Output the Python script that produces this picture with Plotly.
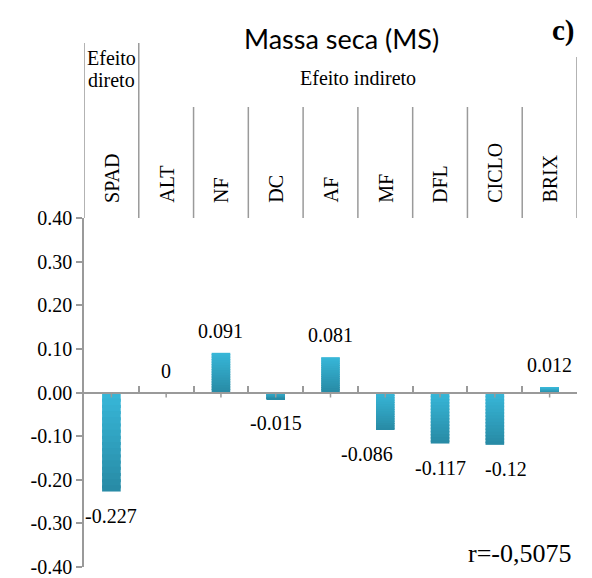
import plotly.graph_objects as go

categories = ["SPAD", "ALT", "NF", "DC", "AF", "MF", "DFL", "CICLO", "BRIX"]
values = [-0.227, 0.0, 0.091, -0.015, 0.081, -0.086, -0.117, -0.12, 0.012]
value_labels = ["-0.227", "0", "0.091", "-0.015", "0.081", "-0.086", "-0.117", "-0.12", "0.012"]
label_xshift = [0, 0, 0, 0, 0, -18, 0, 11, 0]
y_ticks = [-0.4, -0.3, -0.2, -0.1, 0.0, 0.1, 0.2, 0.3, 0.4]
y_tick_text = ["-0.40", "-0.30", "-0.20", "-0.10", "0.00", "0.10", "0.20", "0.30", "0.40"]

SERIF = "Liberation Serif, Times New Roman, serif"
GRAY = "#9a9a9a"
LIGHT = (55, 183, 217)
DARK = (40, 138, 164)

# page has an 8px body margin; figure sized to fit the window
OFF = 8
W, H = 584, 570
ML, MR, MT, MB = 76, 15, 210, 11
PW = W - ML - MR
PH = H - MT - MB

def px(p):
    return (p - OFF - ML) / PW

def py(p):
    return (H - MB - (p - OFF)) / PH

def mix(t):
    c = [round(DARK[j] + (LIGHT[j] - DARK[j]) * t) for j in range(3)]
    return "rgb(%d,%d,%d)" % tuple(c)

n = len(categories)
xs = list(range(n))
NS = 16
fig = go.Figure()
# vertical gradient: consecutive slices from zero outward, each slightly
# overlapping the next so that no seams show
for k in range(NS):
    frac = (k + 0.5) / NS
    cols = [mix(frac) if v >= 0 else mix(1 - frac) for v in values]
    ext = 1.0 if k == NS - 1 else 1.5
    fig.add_trace(go.Bar(
        x=xs, y=[v * ext / NS for v in values], base=[v * k / NS for v in values],
        width=0.34, marker=dict(color=cols, line=dict(width=0)),
        hoverinfo="skip",
    ))

ann = []
for i, (v, t, dx) in enumerate(zip(values, value_labels, label_xshift)):
    ann.append(dict(x=i, y=v, xref="x", yref="y", text=t, showarrow=False,
                    yanchor="middle", xanchor="center", xshift=dx,
                    yshift=(22 if v >= 0 else -24),
                    font=dict(family=SERIF, size=20, color="black")))
for i, c in enumerate(categories):
    ann.append(dict(x=i, y=py(205), xref="x", yref="paper", text=c, showarrow=False,
                    textangle=-90, yanchor="bottom", xanchor="center",
                    font=dict(family=SERIF, size=20, color="black")))
ann.append(dict(x=0, y=py(58), xref="x", yref="paper", text="Efeito", showarrow=False,
                yanchor="middle", xanchor="center",
                font=dict(family=SERIF, size=20, color="black")))
ann.append(dict(x=0, y=py(80), xref="x", yref="paper", text="direto", showarrow=False,
                yanchor="middle", xanchor="center",
                font=dict(family=SERIF, size=20, color="black")))
ann.append(dict(x=4.5, y=py(78), xref="x", yref="paper", text="Efeito indireto", showarrow=False,
                yanchor="middle", xanchor="center",
                font=dict(family=SERIF, size=20, color="black")))
ann.append(dict(x=px(341), y=py(39), xref="paper", yref="paper",
                text="Massa seca (MS)", showarrow=False, yanchor="middle", xanchor="center",
                font=dict(family="Lato, Noto Sans, sans-serif", size=27, color="black")))
ann.append(dict(x=px(577), y=py(30), xref="paper", yref="paper",
                text="<b>c)</b>", showarrow=False, xanchor="right", yanchor="middle",
                font=dict(family=SERIF, size=29, color="black")))
ann.append(dict(x=px(573), y=py(553), xref="paper", yref="paper",
                text="r=-0,5075", showarrow=False, xanchor="right", yanchor="middle",
                font=dict(family=SERIF, size=26, color="black")))

shapes = []
for k in range(n + 1):
    xb = k - 0.5
    if k <= 1:
        top = 43
    elif k == n:
        top = 57
    else:
        top = 107
    shapes.append(dict(type="line", xref="x", yref="paper", x0=xb, x1=xb,
                       y0=1.0, y1=py(top), line=dict(color=GRAY, width=1.5)))
for i in xs:
    shapes.append(dict(type="line", xref="x", yref="y", ysizemode="pixel", yanchor=0,
                       x0=i, x1=i, y0=0, y1=-5, line=dict(color=GRAY, width=1.5)))

fig.update_layout(
    width=W, height=H,
    margin=dict(l=ML, r=MR, t=MT, b=MB),
    paper_bgcolor="white", plot_bgcolor="white",
    showlegend=False, barmode="overlay",
    annotations=ann, shapes=shapes,
    xaxis=dict(range=[-0.5, n - 0.5], anchor="free", position=0.5, automargin=False,
               showline=True, linecolor=GRAY, linewidth=1.5,
               tickvals=[k - 0.5 for k in range(n + 1)], ticks="inside", ticklen=6,
               tickcolor=GRAY, tickwidth=1.5, showticklabels=False,
               showgrid=False, zeroline=False),
    yaxis=dict(range=[-0.4, 0.4], tickvals=y_ticks, ticktext=y_tick_text, automargin=False,
               ticks="outside", ticklen=6, tickcolor=GRAY, tickwidth=1.5,
               showline=True, linecolor=GRAY, linewidth=1.5,
               showgrid=False, zeroline=False,
               tickfont=dict(family=SERIF, size=20, color="black")),
)

fig.write_html("out.html")
